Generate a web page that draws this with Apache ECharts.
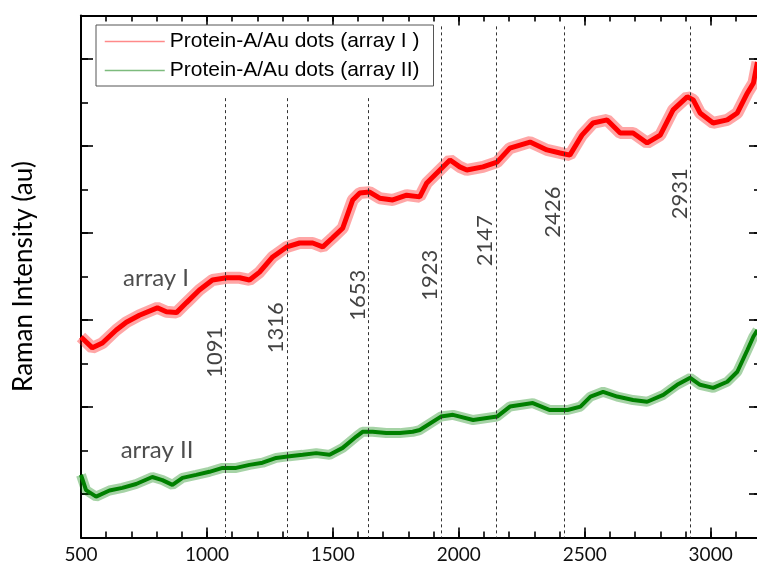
<!DOCTYPE html>
<html><head><meta charset="utf-8">
<script src="https://cdn.jsdelivr.net/npm/echarts@6/dist/echarts.min.js"></script>
<style>html,body{margin:0;padding:0;background:#fff}#c{width:757px;height:569px}</style>
</head><body><div id="c"></div>
<script>
// ---- data ----
const seriesNames = ['Protein-A/Au dots (array I )', 'Protein-A/Au dots (array II)'];
const redWavenumber = [500,545,585,640,680,732,803,839,879,919,970,1022,1078,1130,1169,1209,1261,1317,1368,1420,1460,1499,1539,1579,1607,1646,1686,1738,1793,1845,1873,1925,1965,2004,2032,2096,2152,2203,2283,2350,2402,2441,2489,2533,2589,2641,2692,2748,2800,2851,2907,2931,2958,3010,3066,3106,3146,3170,3186];
const redIntensity = [4.61,4.36,4.47,4.77,4.95,5.11,5.28,5.19,5.17,5.40,5.69,5.92,5.97,5.97,5.92,6.10,6.45,6.68,6.77,6.77,6.68,6.89,7.11,7.76,7.92,7.94,7.80,7.76,7.87,7.83,8.15,8.45,8.68,8.52,8.45,8.52,8.63,8.95,9.09,8.91,8.84,8.79,9.25,9.53,9.60,9.30,9.30,9.07,9.25,9.83,10.13,10.06,9.76,9.53,9.60,9.76,10.22,10.45,10.93];
const greenWavenumber = [500,520,560,613,664,719,783,823,863,903,957,1010,1062,1116,1169,1221,1275,1328,1380,1434,1487,1539,1593,1618,1658,1712,1766,1817,1845,1929,1977,2057,2152,2203,2294,2362,2432,2483,2523,2573,2629,2692,2748,2812,2867,2919,2958,3010,3066,3106,3146,3170,3186];
const greenIntensity = [1.44,1.09,0.94,1.08,1.14,1.23,1.39,1.32,1.21,1.37,1.44,1.51,1.60,1.60,1.67,1.72,1.83,1.87,1.90,1.94,1.90,2.06,2.32,2.43,2.43,2.40,2.40,2.43,2.47,2.78,2.82,2.70,2.78,3.01,3.09,2.93,2.93,3.01,3.24,3.35,3.24,3.16,3.12,3.28,3.51,3.67,3.51,3.44,3.58,3.81,4.31,4.62,4.77];
const peakPositions = [1074,1319,1642,1930,2147,2419,2921];
const peakLabels = ['1091','1316','1653','1923','2147','2426','2931'];
const peakLineTop = [10.1,10.1,10.1,11.75,11.75,11.75,11.75];
const peakLabelHeight = [4.26,4.82,5.57,6.03,6.82,7.48,7.90];
const curveLabels = ['array I', 'array II'];
const curveLabelPos = [[798,5.97],[802,2.01]];
const xRange = [500, 3200];
const yRange = [0, 12];

// ---- build ----
const zip = (a, b) => a.map((v, i) => [v, b[i]]);
const redData = zip(redWavenumber, redIntensity);
const greenData = zip(greenWavenumber, greenIntensity);
const black = '#000';
const clear = 'rgba(0,0,0,0)';
const calibri = 'Lato';
const L = 81, R = -4, T = 15.5, B = 31.5;

function xAx(grid, pos, interval, tickLen, labels, line) {
  return {
    gridIndex: grid, type: 'value', position: pos, min: xRange[0], max: xRange[1], interval: interval,
    axisLine: {show: true, onZero: false, lineStyle: {color: line ? black : clear, width: 2}},
    axisTick: {show: true, inside: true, length: tickLen, lineStyle: {color: black, width: 1.6}},
    axisLabel: {show: true, inside: !labels, showMaxLabel: false, fontSize: labels ? 19 : 2, fontFamily: calibri,
                color: labels ? '#111' : clear, margin: 8, formatter: (v) => String(v)},
    splitLine: {show: false}
  };
}
function yAx(grid, pos, min, max, interval, tickLen, line, extra) {
  return Object.assign({
    gridIndex: grid, type: 'value', position: pos, min: min, max: max, interval: interval,
    axisLine: {show: line, onZero: false, lineStyle: {color: black, width: 2}},
    axisTick: {show: tickLen > 0, inside: true, length: tickLen, lineStyle: {color: black, width: 1.6}},
    axisLabel: {show: false}, splitLine: {show: false}
  }, extra || {});
}
const gridBox = (dt, db) => ({left: L, right: R, top: T + dt, bottom: B + db, outerBoundsMode: 'none', containLabel: false});

const option = {
  backgroundColor: '#fff',
  animation: false,
  grid: [gridBox(0, 0), gridBox(0, 0), gridBox(43.5, 43.5)],
  xAxis: [
    xAx(0, 'bottom', 500, 10, true, true),
    xAx(0, 'top', 500, 10, false, true),
    xAx(1, 'bottom', 100, 6, false, false),
    xAx(1, 'top', 100, 6, false, false),
    Object.assign(xAx(2, 'bottom', 500, 0, false, false), {show: false})
  ],
  yAxis: [
    yAx(0, 'left', yRange[0], yRange[1], 1, 7, true, {
      name: 'Raman Intensity (au)', nameLocation: 'middle', nameGap: 44,
      nameTextStyle: {fontSize: 26, fontFamily: calibri, color: black}
    }),
    yAx(0, 'right', yRange[0], yRange[1], 1, 7, true),
    yAx(1, 'left', yRange[0], yRange[1], 1, 0, false, {show: false}),
    yAx(2, 'left', 0, 10, 2, 12, false),
    yAx(2, 'right', 0, 10, 2, 12, false)
  ],
  legend: {
    show: true, orient: 'vertical', left: 96, top: 25,
    itemWidth: 60, itemHeight: 14, itemGap: 8,
    padding: [6, 14, 5, 8],
    borderColor: '#555', borderWidth: 1, backgroundColor: '#fff',
    textStyle: {fontSize: 21, fontFamily: 'Liberation Sans', color: '#000'},
    data: [
      {name: seriesNames[0], itemStyle: {opacity: 0}, lineStyle: {color: '#ff8a8a', width: 1.5}},
      {name: seriesNames[1], itemStyle: {opacity: 0}, lineStyle: {color: '#7dbb7d', width: 1.5}}
    ]
  },
  series: [
    {type: 'line', name: 'redHalo', data: redData, showSymbol: false, symbol: 'none', silent: true,
     lineStyle: {color: 'rgba(255,0,0,0.35)', width: 12}, z: 2},
    {type: 'line', name: seriesNames[0], data: redData, showSymbol: false, symbol: 'none',
     color: '#ff0000', lineStyle: {color: '#ff0000', width: 5}, z: 3,
     markLine: {
       silent: true, symbol: ['none', 'none'], label: {show: false},
       lineStyle: {color: '#333', width: 1, type: [3, 3]},
       data: peakPositions.map((p, i) => [{coord: [p, peakLineTop[i]]}, {coord: [p, yRange[0]]}])
     }},
    {type: 'line', name: 'greenHalo', data: greenData, showSymbol: false, symbol: 'none', silent: true,
     lineStyle: {color: 'rgba(0,128,0,0.35)', width: 10}, z: 2},
    {type: 'line', name: seriesNames[1], data: greenData, showSymbol: false, symbol: 'none',
     color: '#008000', lineStyle: {color: '#008000', width: 4}, z: 3},
    {type: 'scatter', name: 'peaks', symbolSize: 0, silent: true, z: 5,
     data: peakPositions.map((p, i) => ({value: [p, peakLabelHeight[i]], name: peakLabels[i]})),
     label: {show: true, position: 'inside', formatter: (d) => d.name, rotate: 90, offset: [0, -11],
             fontSize: 22, fontFamily: calibri, color: '#111', align: 'center', verticalAlign: 'middle'}},
    {type: 'scatter', name: 'curveNames', symbolSize: 0, silent: true, z: 5,
     data: curveLabelPos.map((p, i) => ({value: p, name: curveLabels[i]})),
     label: {show: true, position: 'inside', formatter: (d) => d.name,
             fontSize: 24, fontFamily: calibri, color: '#222', align: 'center', verticalAlign: 'middle'}}
  ]
};
const chart = echarts.init(document.getElementById('c'), null, {renderer: 'canvas'});
chart.setOption(option);
</script></body></html>
